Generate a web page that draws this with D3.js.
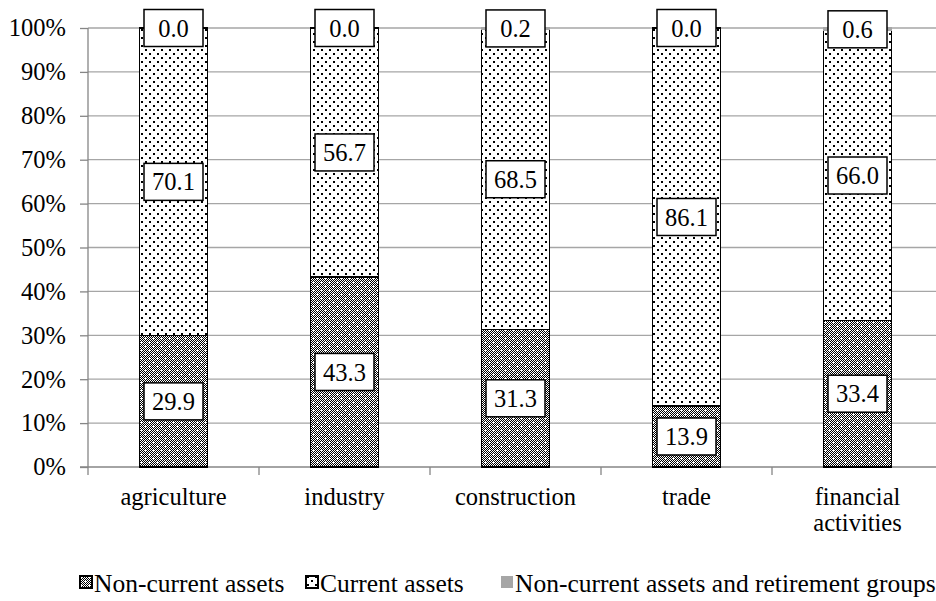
<body style="margin:0;background:#fff">
<svg></svg>
<script src="https://d3js.org/d3.v7.min.js"></script>
<script>
var categories = ["agriculture", "industry", "construction", "trade", "financial activities"];
var nonCurrent = [29.9, 43.3, 31.3, 13.9, 33.4];
var current = [70.1, 56.7, 68.5, 86.1, 66.0];
var retirement = [0.0, 0.0, 0.2, 0.0, 0.6];
var seriesNames = ["Non-current assets", "Current assets", "Non-current assets and retirement groups"];
var yTicks = [0, 10, 20, 30, 40, 50, 60, 70, 80, 90, 100];

var width = 936, height = 601;
var plotLeft = 88, plotRight = 943, plotTop = 28, plotBottom = 467;
var font = "'Liberation Serif', 'Times New Roman', serif";

const svg = d3.select("svg")
    .attr("width", width)
    .attr("height", height)
    .style("font-family", font);

var defs = svg.append("defs");

// dense checker with white dots
var p1 = defs.append("pattern").attr("id", "pNC")
    .attr("patternUnits", "userSpaceOnUse").attr("width", 8).attr("height", 8);
p1.append("rect").attr("width", 8).attr("height", 8).attr("fill", "#000");
for (var yy = 0; yy < 8; yy++) {
  for (var xx = 0; xx < 8; xx++) {
    if ((xx + yy) % 2 == 0) p1.append("rect").attr("x", xx).attr("y", yy).attr("width", 1).attr("height", 1).attr("fill", "#fff");
  }
}
p1.append("rect").attr("x", 1).attr("y", 2).attr("width", 2).attr("height", 1).attr("fill", "#fff");
p1.append("rect").attr("x", 5).attr("y", 6).attr("width", 2).attr("height", 1).attr("fill", "#fff");

// sparse dots
var p2 = defs.append("pattern").attr("id", "pC")
    .attr("patternUnits", "userSpaceOnUse").attr("width", 8).attr("height", 8);
p2.append("rect").attr("width", 8).attr("height", 8).attr("fill", "#fff");
p2.append("rect").attr("x", 1).attr("y", 1).attr("width", 2).attr("height", 2).attr("fill", "#000");
p2.append("rect").attr("x", 5).attr("y", 5).attr("width", 2).attr("height", 2).attr("fill", "#000");

var fills = ["url(#pNC)", "url(#pC)", "#a6a6a6"];

var x = d3.scaleBand().domain(categories).range([plotLeft, plotRight])
    .paddingInner(0.6).paddingOuter(0.3);
var y = d3.scaleLinear().domain([0, 100]).range([plotBottom, plotTop]);

// gridlines
svg.append("g").selectAll("line")
    .data(yTicks.slice(1))
    .join("line")
    .attr("x1", plotLeft).attr("x2", plotRight)
    .attr("y1", d => y(d)).attr("y2", d => y(d))
    .attr("stroke", "#a6a6a6").attr("stroke-width", 1.3);

// y axis
var yAxis = svg.append("g").attr("transform", "translate(" + plotLeft + ",0)")
    .call(d3.axisLeft(y).tickValues(yTicks).tickFormat(d => d + "%").tickSize(8).tickPadding(14));
yAxis.attr("font-family", null).attr("font-size", null);
yAxis.select(".domain").attr("stroke", "#868686").attr("stroke-width", 1.3)
    .attr("d", "M0," + plotTop + "V" + (plotBottom + 8));
yAxis.selectAll(".tick line").attr("stroke", "#868686").attr("stroke-width", 1.3);
yAxis.selectAll("text").attr("font-size", "24.5px").attr("fill", "#000");

// x axis line + separator ticks
svg.append("line").attr("x1", plotLeft - 8).attr("x2", plotRight)
    .attr("y1", plotBottom).attr("y2", plotBottom)
    .attr("stroke", "#868686").attr("stroke-width", 1.3);
svg.append("g").selectAll("line").data(categories.slice(1)).join("line")
    .attr("x1", c => x(c) - (x.step() - x.bandwidth()) / 2)
    .attr("x2", c => x(c) - (x.step() - x.bandwidth()) / 2)
    .attr("y1", plotBottom).attr("y2", plotBottom + 8)
    .attr("stroke", "#868686").attr("stroke-width", 1.3);

// stacked data
var rows = categories.map((c, i) => ({cat: c, vals: [nonCurrent[i], current[i], retirement[i]]}));
var segs = [];
rows.forEach(r => {
  var acc = 0;
  r.vals.forEach((v, k) => {
    segs.push({cat: r.cat, k: k, v: v, y0: acc, y1: acc + v});
    acc += v;
  });
});

svg.append("g").selectAll("rect")
    .data(segs)
    .join("rect")
    .attr("x", d => x(d.cat))
    .attr("width", x.bandwidth())
    .attr("y", d => y(d.y1))
    .attr("height", d => y(d.y0) - y(d.y1))
    .attr("fill", d => fills[d.k])
    .attr("stroke", d => d.k == 2 ? "#a6a6a6" : "#000")
    .attr("stroke-width", 1.5)
    .attr("shape-rendering", "crispEdges");

// value labels
var lab = svg.append("g").selectAll("g")
    .data(segs)
    .join("g")
    .attr("transform", d => "translate(" + (x(d.cat) + x.bandwidth() / 2) + "," + y((d.y0 + d.y1) / 2) + ")");
lab.append("rect")
    .attr("x", -29.5).attr("y", -18.5).attr("width", 59).attr("height", 37)
    .attr("fill", "#fff").attr("stroke", "#000").attr("stroke-width", 1.5);
lab.append("text")
    .attr("text-anchor", "middle").attr("dy", "0.35em")
    .attr("font-size", "24.5px")
    .text(d => d.v.toFixed(1));

// category labels
svg.append("g").selectAll("text")
    .data(categories)
    .join("text")
    .attr("x", c => x(c) + x.bandwidth() / 2)
    .attr("y", 505)
    .attr("text-anchor", "middle")
    .attr("font-size", "24.5px")
    .each(function(c) {
      var parts = c == "financial activities" ? ["financial", "activities"] : [c];
      var t = d3.select(this);
      parts.forEach((p, i) => {
        t.append("tspan").attr("x", x(c) + x.bandwidth() / 2).attr("dy", i == 0 ? 0 : 26).text(p);
      });
    });

// legend
var legX = [80, 306, 501];
var leg = svg.append("g").selectAll("g")
    .data(seriesNames)
    .join("g")
    .attr("transform", (d, i) => "translate(" + legX[i] + ",583)");
leg.append("rect")
    .attr("x", 0).attr("y", -7).attr("width", 12).attr("height", 12)
    .attr("fill", (d, i) => fills[i])
    .attr("stroke", (d, i) => i == 2 ? "none" : "#000")
    .attr("stroke-width", 1.2)
    .attr("shape-rendering", "crispEdges");
leg.append("text")
    .attr("x", 14).attr("dy", "0.35em")
    .attr("font-size", "25.5px")
    .text(d => d);
</script>
</body>
